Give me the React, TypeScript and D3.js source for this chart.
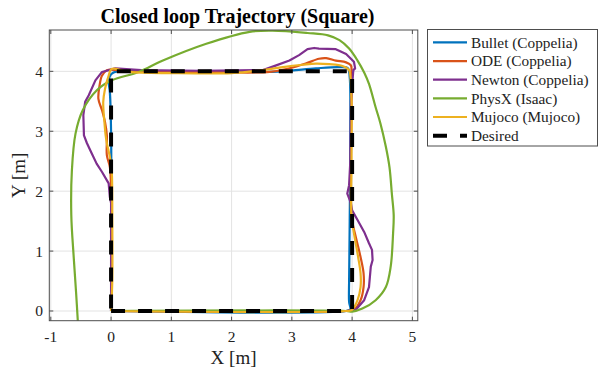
import React from 'react';
import * as d3 from 'd3';

// trajectories, counter-clockwise from (0,0)
const bulletX = [0, 3.9, 3.97, 3.95, 3.95, 3.96, 3.97, 3.96, 3.93, 3.79, 3.4, 2.85, 2.3, 1.0, 0.1, 0.0, -0.04, -0.02, 0, 0];
const bulletY = [0, 0, 0.03, 0.15, 0.5, 1.5, 3.0, 3.9, 4.05, 4.07, 4.05, 4.0, 3.99, 4.0, 4.0, 3.95, 3.85, 3.65, 3.0, 0];

const odeX = [0, 3.9, 4.03, 4.14, 4.19, 4.19, 4.14, 4.06, 3.99, 3.98, 3.99, 3.99, 3.98, 3.9, 3.73, 3.57, 3.45, 3.23, 2.96, 2.63, 1.5, 0.3, -0.07, -0.15, -0.19, -0.21, -0.15, -0.1, -0.07, -0.07, -0.02, 0, 0];
const odeY = [0, 0, 0.02, 0.18, 0.4, 0.63, 0.9, 1.24, 1.57, 2.5, 3.5, 3.99, 4.1, 4.15, 4.18, 4.22, 4.21, 4.13, 4.05, 3.99, 3.99, 4.0, 4.02, 3.93, 3.77, 3.54, 3.35, 3.15, 2.93, 2.6, 2.4, 2.0, 0];

const newtonX = [0, 3.9, 4.06, 4.2, 4.28, 4.31, 4.34, 4.33, 4.28, 4.2, 4.09, 4.0, 3.98, 3.92, 3.95, 3.97, 3.98, 4.02, 4.05, 4.03, 3.98, 3.9, 3.73, 3.45, 3.37, 3.26, 3.12, 2.96, 2.74, 2.52, 1.5, 0.5, 0.07, -0.15, -0.26, -0.37, -0.43, -0.46, -0.45, -0.4, -0.32, -0.24, -0.15, -0.04, -0.02, 0, 0];
const newtonY = [0, 0, 0.02, 0.18, 0.4, 0.74, 0.85, 1.02, 1.13, 1.32, 1.52, 1.68, 1.8, 1.96, 2.1, 2.5, 3.5, 4.02, 4.05, 4.16, 4.21, 4.29, 4.37, 4.38, 4.39, 4.37, 4.27, 4.18, 4.1, 4.02, 4.01, 4.02, 4.05, 3.99, 3.85, 3.6, 3.49, 3.27, 2.93, 2.8, 2.63, 2.46, 2.32, 2.13, 1.9, 1.8, 0];

const physxX = [0, 3.9, 4.0, 4.17, 4.39, 4.56, 4.64, 4.68, 4.69, 4.66, 4.62, 4.56, 4.47, 4.39, 4.28, 4.2, 4.09, 3.95, 3.79, 3.6, 3.26, 2.68, 2.3, 1.58, 0.86, 0.46, 0.01, -0.24, -0.47, -0.59, -0.65, -0.66, -0.62, -0.58, -0.55];
const physxY = [0, 0, -0.01, 0.04, 0.18, 0.4, 0.74, 1.3, 1.6, 1.95, 2.4, 2.74, 3.13, 3.4, 3.79, 3.98, 4.18, 4.38, 4.52, 4.6, 4.64, 4.68, 4.66, 4.46, 4.18, 3.99, 3.85, 3.68, 3.35, 2.96, 2.35, 1.6, 0.9, 0.3, -0.2];

const mujocoX = [0, 3.9, 4.0, 4.09, 4.14, 4.14, 4.1, 4.03, 3.99, 3.99, 3.99, 3.97, 3.95, 3.84, 3.62, 3.4, 3.18, 2.85, 2.52, 2.0, 1.0, 0.3, 0.01, -0.04, -0.1, -0.13, -0.11, -0.09, -0.07, -0.02, 0.01, 0.02, 0.02, 0];
const mujocoY = [0, 0, 0.02, 0.18, 0.4, 0.63, 0.9, 1.3, 1.57, 2.5, 3.5, 3.93, 4.02, 4.09, 4.12, 4.13, 4.11, 4.07, 4.02, 3.97, 3.97, 3.99, 4.04, 3.93, 3.71, 3.49, 3.15, 2.93, 2.8, 2.57, 2.35, 1.5, 0.5, 0];

const desiredX = [0, 4, 4, 0, 0];
const desiredY = [0, 0, 4, 4, 0];

const xTicks = [-1, 0, 1, 2, 3, 4, 5];
const yTicks = [0, 1, 2, 3, 4];

const seriesNames = ['Bullet (Coppelia)', 'ODE (Coppelia)', 'Newton (Coppelia)', 'PhysX (Isaac)', 'Mujoco (Mujoco)', 'Desired'];
const seriesColors = ['#0072BD', '#D95319', '#7E2F8E', '#77AC30', '#EDB120', '#000000'];

const serif = "'Liberation Serif', 'Times New Roman', Times, serif";

export default function App() {
  const width = 603;
  const height = 367;
  const box = { left: 49.3, right: 417.8, top: 30, bottom: 320.7 };

  const x = d3.scaleLinear().domain([-1.025, 5.09]).range([box.left, box.right]);
  const y = d3.scaleLinear().domain([-0.162, 4.69]).range([box.bottom, box.top]);

  const zip = (xs: number[], ys: number[]) => xs.map((v, i) => [v, ys[i]] as [number, number]);
  const smooth = d3.line<[number, number]>().x(d => x(d[0])).y(d => y(d[1])).curve(d3.curveCatmullRom.alpha(0.5));
  const straight = d3.line<[number, number]>().x(d => x(d[0])).y(d => y(d[1]));

  const series = [
    { pts: zip(bulletX, bulletY), line: smooth },
    { pts: zip(odeX, odeY), line: smooth },
    { pts: zip(newtonX, newtonY), line: straight },
    { pts: zip(physxX, physxY), line: smooth },
    { pts: zip(mujocoX, mujocoY), line: smooth },
  ];

  const tick = 4;
  const gridColor = '#e3e3e3';
  const axisColor = '#4d4d4d';

  return (
    <svg width={width} height={height} style={{ position: 'absolute', left: 0, top: 0, background: '#fff' }}>
      <defs>
        <clipPath id="plotClip">
          <rect x={box.left} y={box.top} width={box.right - box.left} height={box.bottom - box.top} />
        </clipPath>
      </defs>

      {/* grid */}
      {xTicks.map(t => (
        <line key={'gx' + t} x1={x(t)} x2={x(t)} y1={box.top} y2={box.bottom} stroke={gridColor} strokeWidth={1} />
      ))}
      {yTicks.map(t => (
        <line key={'gy' + t} x1={box.left} x2={box.right} y1={y(t)} y2={y(t)} stroke={gridColor} strokeWidth={1} />
      ))}

      {/* trajectories */}
      <g clipPath="url(#plotClip)" fill="none">
        {series.map((s, i) => (
          <path key={i} d={s.line(s.pts) || ''} stroke={seriesColors[i]} strokeWidth={2.2} strokeLinejoin="round" />
        ))}
        <path d={straight(zip(desiredX, desiredY)) || ''} stroke="#000" strokeWidth={4} strokeDasharray="14 13" />
      </g>

      {/* box and ticks */}
      <rect x={box.left} y={box.top} width={box.right - box.left} height={box.bottom - box.top} fill="none" stroke={axisColor} strokeWidth={1} />
      {xTicks.map(t => (
        <g key={'tx' + t}>
          <line x1={x(t)} x2={x(t)} y1={box.bottom} y2={box.bottom - tick} stroke={axisColor} />
          <line x1={x(t)} x2={x(t)} y1={box.top} y2={box.top + tick} stroke={axisColor} />
          <text x={x(t)} y={337} textAnchor="middle" dy="0.35em" fontFamily={serif} fontSize={15.5} fill="#222">{t}</text>
        </g>
      ))}
      {yTicks.map(t => (
        <g key={'ty' + t}>
          <line x1={box.left} x2={box.left + tick} y1={y(t)} y2={y(t)} stroke={axisColor} />
          <line x1={box.right} x2={box.right - tick} y1={y(t)} y2={y(t)} stroke={axisColor} />
          <text x={43} y={y(t)} textAnchor="end" dy="0.35em" fontFamily={serif} fontSize={15.5} fill="#222">{t}</text>
        </g>
      ))}

      {/* labels */}
      <text x={(box.left + box.right) / 2 + 4} y={23} textAnchor="middle" fontFamily={serif} fontSize={20} fontWeight="bold" fill="#000">
        Closed loop Trajectory (Square)
      </text>
      <text x={(box.left + box.right) / 2} y={364} textAnchor="middle" fontFamily={serif} fontSize={19} fill="#222">X [m]</text>
      <text transform={`translate(25, ${(box.top + box.bottom) / 2}) rotate(-90)`} textAnchor="middle" fontFamily={serif} fontSize={19} fill="#222">Y [m]</text>

      {/* legend */}
      <rect x={427.5} y={29.5} width={170} height={116.5} fill="#fff" stroke={axisColor} strokeWidth={1} />
      {seriesNames.map((name, i) => {
        const cy = 42.4 + i * 18.65;
        return (
          <g key={name}>
            <line x1={433} x2={467} y1={cy} y2={cy} stroke={seriesColors[i]}
              strokeWidth={i === 5 ? 4 : 2.2} strokeDasharray={i === 5 ? '14 13' : undefined} />
            <text x={471} y={cy} dy="0.35em" fontFamily={serif} fontSize={15.3} fill="#222">{name}</text>
          </g>
        );
      })}
    </svg>
  );
}
